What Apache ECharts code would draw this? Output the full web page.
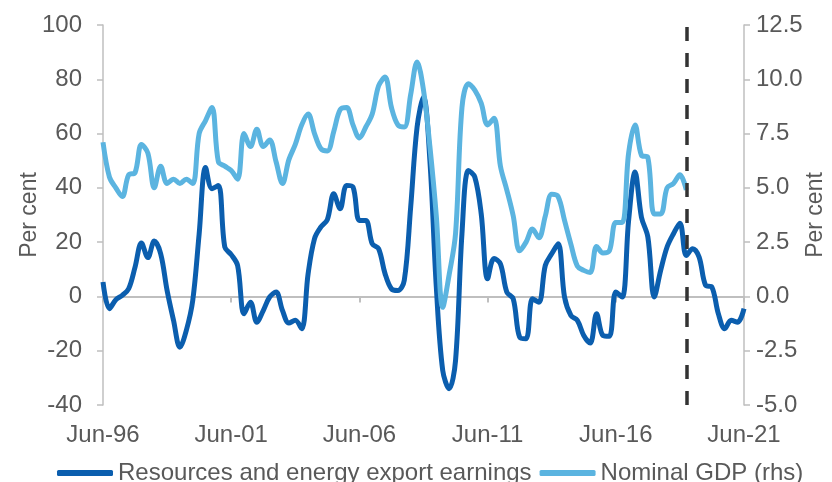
<!DOCTYPE html>
<html>
<head>
<meta charset="utf-8">
<style>
  html, body { margin: 0; padding: 0; background: #ffffff; overflow: hidden; }
  #chart { width: 832px; height: 482px; }
</style>
<script src="https://cdn.jsdelivr.net/npm/echarts/dist/echarts.min.js"></script>
</head>
<body>
<div id="chart"></div>
<script>
// Quarterly categories, Jun-96 to Jun-21
const startYear = 1996;
const quarterCount = 101;
const monthNames = ['Mar', 'Jun', 'Sep', 'Dec'];
const quarters = [];
for (let i = 0; i < quarterCount; i++) {
  const q = 1 + i;                       // 0 -> Jun of startYear
  const year = startYear + Math.floor(q / 4);
  quarters.push(monthNames[q % 4] + '-' + String(year % 100).padStart(2, '0'));
}

// Resources and energy export earnings, year-ended growth (per cent, lhs)
const exportEarnings = [
  5.3, -4.5, -1.2, 0.4, 2.8, 10.8, 19.7, 14.3, 20.4, 15.7,
  2.2, -8.8, -18.7, -12.5, -1.5, 23.0, 47.5, 39.7, 40.9, 18.2,
  15.4, 11.4, -6.4, -2.1, -9.5, -5.2, -0.2, 1.6, -5.2, -9.8,
  -8.8, -11.9, 8.4, 21.3, 25.6, 28.3, 37.8, 32.3, 40.9, 40.3,
  28.0, 28.0, 19.4, 17.6, 8.4, 2.8, 2.2, 5.9, 32.9, 62.4,
  73.5, 50.0, 3.4, -27.3, -34.0, -23.6, 23.1, 46.4, 44.0, 30.5,
  6.5, 14.0, 12.0, 1.6, -0.9, -15.0, -15.6, -0.9, -2.1, 11.4,
  15.7, 19.4, -0.2, -7.0, -8.8, -14.4, -17.2, -6.4, -14.4, -14.7,
  1.6, -0.2, 28.0, 45.8, 29.2, 21.9, -0.2, 9.6, 18.2, 23.1,
  27.0, 15.1, 17.6, 14.5, 4.1, 3.4, -6.4, -11.9, -8.8, -9.5,
  -4.5
];

// Nominal GDP, year-ended growth (per cent, rhs)
const nominalGdp = [
  7.1, 5.5, 5.0, 4.6, 5.6, 5.7, 7.0, 6.6, 5.0, 6.0,
  5.2, 5.4, 5.2, 5.4, 5.2, 7.5, 8.1, 8.7, 6.2, 6.0,
  5.8, 5.4, 7.5, 6.9, 7.7, 6.9, 7.2, 6.2, 5.2, 6.3,
  7.0, 7.9, 8.4, 7.5, 6.8, 6.7, 7.6, 8.6, 8.7, 7.9,
  7.3, 7.8, 8.4, 9.7, 10.1, 8.7, 7.9, 7.8, 9.3, 10.8,
  9.5, 6.9, 3.7, -0.5, 1.0, 2.9, 8.7, 9.8, 9.5, 8.9,
  7.9, 8.2, 6.0, 4.9, 3.7, 2.1, 2.5, 3.1, 2.7, 3.7,
  4.7, 4.6, 3.5, 2.4, 1.4, 1.2, 1.1, 2.3, 2.0, 2.1,
  3.4, 3.4, 6.6, 7.9, 6.5, 6.4, 3.8, 3.8, 5.0, 5.2,
  5.6, 4.9
];

// Last quarter of actual data; forecasts follow
const forecastStart = quarters[91];

const leftTicks = { min: -40, max: 100, interval: 20 };
const rightTicks = { min: -5, max: 12.5, interval: 2.5 };

const FONT = "'Liberation Sans', Arial, sans-serif";
const TEXT = '#595959';
const AXIS = '#bfbfbf';
const DARK = '#0b5eae';
const LIGHT = '#5bb4e0';

const chart = echarts.init(document.getElementById('chart'), null, { renderer: 'canvas' });

chart.setOption({
  animation: false,
  textStyle: { fontFamily: FONT },
  grid: {
    left: 103, right: 88, top: 25, bottom: 77,
    containLabel: false,
    outerBoundsMode: 'none'
  },
  legend: {
    left: 52,
    top: 456,
    icon: 'roundRect',
    itemWidth: 56,
    itemHeight: 6,
    itemGap: 8,
    textStyle: { fontSize: 24, color: TEXT, fontFamily: FONT },
    data: ['Resources and energy export earnings', 'Nominal GDP (rhs)']
  },
  xAxis: [
    {
      type: 'category',
      data: quarters,
      boundaryGap: false,
      position: 'bottom',
      axisLine: { show: false, onZero: false },
      axisTick: { show: false },
      splitLine: { show: false },
      axisLabel: {
        interval: 19,
        fontSize: 24,
        color: TEXT,
        fontFamily: FONT,
        margin: 18
      }
    },
    {
      type: 'category',
      data: quarters,
      boundaryGap: false,
      position: 'bottom',
      axisLine: { show: true, onZero: true, onZeroAxisIndex: 0, lineStyle: { color: AXIS, width: 2 } },
      axisTick: { show: true, interval: 19, length: 6, lineStyle: { color: AXIS, width: 2 } },
      axisLabel: { show: false },
      splitLine: { show: false }
    }
  ],
  yAxis: [
    {
      type: 'value',
      position: 'left',
      min: leftTicks.min,
      max: leftTicks.max,
      interval: leftTicks.interval,
      name: 'Per cent',
      nameLocation: 'middle',
      nameRotate: 90,
      nameGap: 62,
      nameMoveOverlap: false,
      nameTextStyle: { fontSize: 23, color: TEXT, fontFamily: FONT },
      axisLine: { show: true, lineStyle: { color: AXIS, width: 1.5 } },
      axisTick: { show: true, length: 6, lineStyle: { color: AXIS, width: 1.5 } },
      splitLine: { show: false },
      axisLabel: { fontSize: 24, color: TEXT, fontFamily: FONT, margin: 21 }
    },
    {
      type: 'value',
      position: 'right',
      min: rightTicks.min,
      max: rightTicks.max,
      interval: rightTicks.interval,
      name: 'Per cent',
      nameLocation: 'middle',
      nameRotate: 90,
      nameGap: 60,
      nameMoveOverlap: false,
      nameTextStyle: { fontSize: 23, color: TEXT, fontFamily: FONT },
      axisLine: { show: true, lineStyle: { color: AXIS, width: 1.5 } },
      axisTick: { show: true, length: 6, lineStyle: { color: AXIS, width: 1.5 } },
      splitLine: { show: false },
      axisLabel: {
        fontSize: 24, color: TEXT, fontFamily: FONT, margin: 12,
        formatter: v => v.toFixed(1)
      }
    }
  ],
  series: [
    {
      name: 'Resources and energy export earnings',
      type: 'line',
      xAxisIndex: 0,
      yAxisIndex: 0,
      data: exportEarnings,
      smooth: 0.35,
      showSymbol: false,
      symbol: 'none',
      color: DARK,
      lineStyle: { color: DARK, width: 5 },
      markLine: {
        silent: true,
        symbol: 'none',
        label: { show: false },
        lineStyle: { color: '#333333', width: 3.5, type: [14, 12] },
        data: [{ xAxis: forecastStart }]
      }
    },
    {
      name: 'Nominal GDP (rhs)',
      type: 'line',
      xAxisIndex: 0,
      yAxisIndex: 1,
      data: nominalGdp,
      smooth: 0.35,
      showSymbol: false,
      symbol: 'none',
      color: LIGHT,
      lineStyle: { color: LIGHT, width: 5 }
    }
  ]
});
</script>
</body>
</html>
